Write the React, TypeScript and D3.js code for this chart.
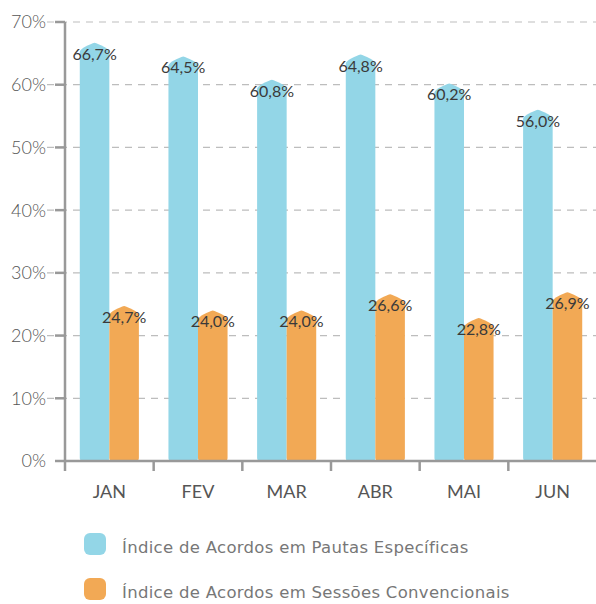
import React from 'react';
import * as d3 from 'd3';

const months = ['JAN', 'FEV', 'MAR', 'ABR', 'MAI', 'JUN'];
const pautas = [66.7, 64.5, 60.8, 64.8, 60.2, 56.0];
const sessoes = [24.7, 24.0, 24.0, 26.6, 22.8, 26.9];
const yTicks = [0, 10, 20, 30, 40, 50, 60, 70];
const seriesNames = [
  'Índice de Acordos em Pautas Específicas',
  'Índice de Acordos em Sessões Convencionais',
];
const colors = ['#93d6e7', '#f2a955'];

const W = 596;
const H = 604;
const margin = { top: 22, right: -1, bottom: 143, left: 65 };

// bar with a soft pointed top and slightly rounded bottom corners
function barPath(x0: number, w: number, yTop: number, yBase: number) {
  const cx = x0 + w / 2;
  const x1 = x0 + w;
  const r = 3;
  return [
    `M${x0},${yBase - r}`,
    `L${x0},${yTop + 9}`,
    `C${x0},${yTop + 6} ${cx - 4},${yTop + 1} ${cx},${yTop}`,
    `C${cx + 4},${yTop + 1} ${x1},${yTop + 6} ${x1},${yTop + 9}`,
    `L${x1},${yBase - r}`,
    `Q${x1},${yBase} ${x1 - r},${yBase}`,
    `L${x0 + r},${yBase}`,
    `Q${x0},${yBase} ${x0},${yBase - r}`,
    'Z',
  ].join(' ');
}

const fmt = (v: number) => v.toFixed(1).replace('.', ',') + '%';

export default function App() {
  const x = d3.scaleBand<string>()
    .domain(months)
    .range([margin.left, W - margin.right])
    .padding(0);
  const x1 = d3.scaleBand<string>()
    .domain(['a', 'b'])
    .range([0, x.bandwidth()])
    .paddingInner(0)
    .paddingOuter(0.5);
  const y = d3.scaleLinear()
    .domain([0, 70])
    .range([H - margin.bottom, margin.top]);

  const yBase = y(0);
  const series = [pautas, sessoes];
  const keys = ['a', 'b'];
  const numFont = 'Lato, "Open Sans", sans-serif';

  return (
    <div style={{ position: 'absolute', left: 0, top: 0 }}>
      <svg width={W} height={H} style={{ display: 'block', background: '#fff' }}>
        {/* grid */}
        {yTicks.map(t => (
          <g key={t}>
            {t > 0 && (
              <line x1={47} x2={W} y1={y(t)} y2={y(t)}
                stroke="#bdbdbd" strokeWidth={1.2} strokeDasharray="7,6" />
            )}
            <line x1={55} x2={margin.left} y1={y(t)} y2={y(t)} stroke="#999" strokeWidth={2.5} />
            <text x={46} y={y(t)} dy="0.36em" textAnchor="end"
              fontFamily={numFont} fontSize={18} fontWeight={300} fill="#555">{t}%</text>
          </g>
        ))}

        {/* bars */}
        {months.map((m, i) => (
          <g key={m}>
            {series.map((s, k) => {
              const bx = (x(m) ?? 0) + (x1(keys[k]) ?? 0);
              const bw = x1.bandwidth();
              return (
                <path key={k} d={barPath(bx, bw, y(s[i]), yBase)} fill={colors[k]} />
              );
            })}
          </g>
        ))}

        {/* value labels */}
        {months.map((m, i) => (
          <g key={m}>
            {series.map((s, k) => {
              const cx = (x(m) ?? 0) + (x1(keys[k]) ?? 0) + x1.bandwidth() / 2;
              return (
                <text key={k} x={cx} y={y(s[i]) + 17} textAnchor="middle"
                  fontFamily={numFont} fontSize={16} fill="#3a3a3a">{fmt(s[i])}</text>
              );
            })}
          </g>
        ))}

        {/* axes */}
        <line x1={margin.left} x2={margin.left} y1={y(70)} y2={yBase} stroke="#999" strokeWidth={2.5} />
        <line x1={margin.left - 1} x2={W} y1={yBase} y2={yBase} stroke="#999" strokeWidth={2.5} />
        {months.map(m => (
          <line key={m} x1={x(m)} x2={x(m)} y1={yBase} y2={yBase + 10} stroke="#999" strokeWidth={2.5} />
        ))}
        {months.map(m => (
          <text key={m} x={(x(m) ?? 0) + x.bandwidth() / 2} y={498} textAnchor="middle"
            fontFamily={numFont} fontSize={18} fill="#555">{m}</text>
        ))}

        {/* legend */}
        {seriesNames.map((n, k) => (
          <g key={n} transform={`translate(84, ${533 + k * 45})`}>
            <rect width={22} height={22} rx={6} fill={colors[k]} />
            <text x={38} y={20} fontFamily='"DejaVu Sans", sans-serif' fontSize={16.5}
              letterSpacing={0.3} fill="#777">{n}</text>
          </g>
        ))}
      </svg>
    </div>
  );
}
